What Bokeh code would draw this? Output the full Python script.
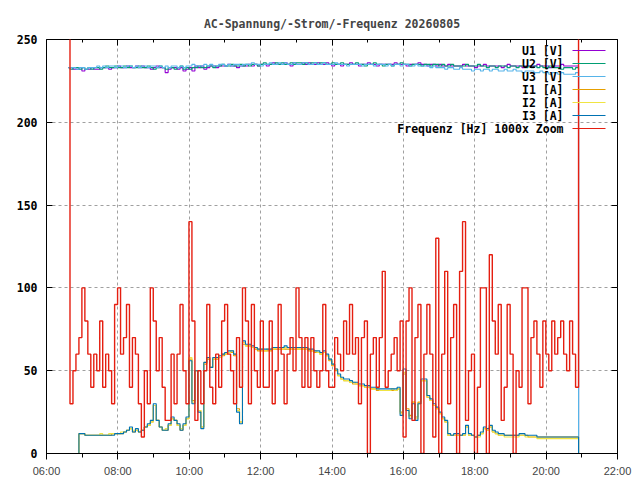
import numpy as np
from bokeh.plotting import figure
from bokeh.models import FixedTicker, LinearAxis, Range1d, Label, BoxAnnotation
from bokeh.embed import file_html
from bokeh.resources import INLINE

# sampling: first sample 06:37, one value every 5 minutes
start_min = 6 * 60 + 37
step_min = 5

x_ticks = [6, 8, 10, 12, 14, 16, 18, 20, 22]
x_minor = [7, 9, 11, 13, 15, 17, 19, 21]
x_labels = ["06:00", "08:00", "10:00", "12:00", "14:00", "16:00", "18:00", "20:00", "22:00"]
y_ticks = [0, 50, 100, 150, 200, 250]

u1 = [233, 233, 232, 232, 233, 231, 232, 232, 233, 232, 232, 233,
      233, 233, 232, 233, 233, 234, 233, 233, 234, 233, 233, 234,
      233, 234, 233, 233, 232, 233, 234, 233, 233, 230, 232, 233,
      233, 232, 233, 231, 232, 233, 231, 234, 233, 234, 232, 233,
      234, 234, 233, 234, 234, 234, 235, 234, 234, 233, 234, 234,
      234, 235, 234, 235, 234, 235, 235, 234, 235, 236, 235, 235,
      235, 236, 235, 234, 236, 235, 235, 236, 235, 236, 235, 235,
      236, 235, 235, 236, 235, 234, 235, 235, 234, 235, 235, 236,
      235, 235, 234, 235, 235, 236, 235, 235, 234, 235, 235, 235,
      235, 235, 236, 235, 235, 235, 234, 235, 235, 235, 236, 235,
      235, 234, 235, 235, 234, 235, 234, 234, 235, 234, 234, 234,
      234, 235, 234, 234, 234, 233, 234, 234, 235, 234, 234, 234,
      234, 234, 233, 234, 235, 234, 234, 234, 234, 233, 234, 234,
      234, 234, 235, 234, 234, 234, 233, 234, 234, 234, 235, 234,
      234, 234, 234, 234, 0]
u2 = [233, 232, 233, 233, 232, 233, 232, 233, 232, 233, 233, 232,
      233, 234, 233, 233, 234, 233, 233, 234, 233, 234, 233, 233,
      234, 233, 233, 234, 233, 232, 233, 234, 233, 232, 233, 233,
      232, 233, 234, 232, 233, 232, 233, 233, 234, 233, 233, 234,
      234, 233, 234, 234, 235, 234, 234, 235, 234, 234, 235, 234,
      235, 234, 235, 235, 234, 235, 236, 235, 235, 235, 236, 235,
      236, 235, 235, 236, 235, 236, 236, 235, 236, 235, 236, 236,
      235, 236, 236, 235, 235, 236, 235, 235, 236, 235, 235, 235,
      235, 236, 235, 235, 234, 235, 235, 236, 235, 235, 234, 235,
      235, 234, 235, 235, 236, 235, 235, 234, 235, 235, 235, 234,
      235, 235, 234, 235, 235, 234, 235, 234, 234, 235, 234, 234,
      234, 234, 235, 234, 234, 234, 235, 234, 234, 233, 234, 234,
      233, 234, 234, 234, 233, 234, 234, 233, 234, 234, 233, 234,
      233, 234, 233, 234, 233, 233, 234, 233, 233, 233, 232, 233,
      233, 233, 232, 233, 0]
u3 = [233, 233, 233, 232, 233, 233, 232, 233, 233, 233, 234, 233,
      234, 233, 234, 234, 233, 234, 234, 233, 234, 234, 233, 234,
      233, 234, 234, 233, 234, 234, 233, 234, 233, 234, 233, 234,
      234, 233, 234, 233, 234, 234, 235, 234, 234, 234, 235, 234,
      235, 234, 234, 235, 235, 234, 235, 234, 235, 235, 234, 235,
      235, 235, 236, 235, 235, 234, 235, 235, 236, 235, 235, 236,
      235, 236, 235, 235, 236, 235, 235, 236, 236, 235, 235, 236,
      235, 235, 236, 235, 235, 235, 236, 235, 235, 235, 234, 235,
      235, 235, 235, 234, 235, 235, 235, 234, 235, 235, 235, 234,
      235, 234, 235, 235, 234, 235, 235, 234, 234, 235, 234, 234,
      234, 234, 233, 234, 233, 233, 233, 232, 233, 233, 232, 232,
      233, 232, 232, 232, 231, 232, 232, 231, 232, 232, 231, 232,
      232, 231, 231, 232, 231, 231, 232, 231, 231, 230, 231, 231,
      231, 230, 230, 231, 230, 230, 229, 230, 230, 229, 230, 229,
      229, 229, 229, 230, 0]

i1 = [0, 0, 0, 0, 12, 12, 11, 11, 11, 11, 11, 11, 11, 11, 11, 12,
      12, 12, 12, 13, 14, 15, 13, 14, 13, 14, 16, 17, 19, 29,
      20, 16, 14, 14, 17, 21, 20, 17, 14, 17,
      21, 57, 32, 50, 26, 16, 54, 57, 52, 57,
      57, 58, 59, 60, 61, 61, 59, 27, 19, 66,
      65, 65, 64, 63, 62, 62, 62, 62, 62, 63,
      63, 63, 63, 63, 63, 63, 63, 63, 63, 63,
      63, 62, 62, 61, 61, 60, 61, 59, 56, 53,
      50, 47, 45, 44, 44, 43, 42, 42, 41, 41,
      40, 40, 39, 39, 38, 38, 38, 38, 38, 38,
      38, 39, 25, 48, 27, 23, 31, 22, 31, 44,
      44, 34, 32, 29, 27, 24, 21, 19, 11, 11,
      11, 11, 11, 11, 16, 11, 11, 10, 11, 12,
      15, 14, 16, 13, 12, 11, 11, 11, 11, 11,
      11, 11, 11, 11, 11, 10, 10, 10, 10, 10,
      10, 10, 10, 10, 10, 10, 10, 10, 10, 10,
      10, 10, 0]
i2 = [0, 0, 0, 0, 12, 12, 11, 11, 11, 11, 11, 12, 11, 11, 12, 12,
      12, 12, 13, 13, 14, 15, 14, 14, 13, 14, 16, 17, 19, 29,
      20, 16, 14, 15, 17, 21, 20, 17, 15, 17,
      21, 58, 31, 50, 26, 16, 55, 58, 52, 57,
      58, 58, 60, 60, 61, 62, 60, 26, 19, 67,
      65, 65, 64, 64, 63, 63, 62, 63, 63, 63,
      64, 64, 63, 64, 64, 63, 64, 63, 63, 63,
      63, 63, 62, 62, 61, 60, 61, 59, 57, 54,
      51, 47, 45, 44, 44, 43, 43, 42, 41, 41,
      40, 40, 39, 39, 39, 38, 38, 38, 38, 39,
      38, 39, 24, 49, 26, 22, 31, 21, 30, 44,
      44, 34, 32, 29, 27, 24, 21, 19, 11, 11,
      11, 11, 11, 11, 16, 11, 11, 10, 10, 12,
      15, 14, 16, 13, 12, 11, 11, 10, 10, 10,
      10, 10, 11, 11, 10, 10, 10, 10, 9, 9,
      9, 9, 9, 9, 9, 9, 9, 9, 9, 9,
      9, 9, 0]
i3 = [0, 0, 0, 0, 12, 12, 11, 11, 11, 11, 11, 11, 11, 11, 11, 11,
      12, 12, 12, 13, 14, 16, 13, 15, 13, 14, 16, 18, 20, 30,
      20, 16, 14, 14, 18, 22, 20, 18, 14, 18,
      22, 56, 30, 50, 25, 15, 55, 58, 52, 58,
      58, 59, 60, 61, 62, 62, 60, 25, 18, 68,
      66, 66, 65, 64, 63, 63, 63, 63, 63, 64,
      64, 64, 64, 65, 64, 64, 64, 64, 64, 64,
      64, 63, 63, 62, 62, 61, 62, 60, 57, 54,
      51, 48, 46, 45, 45, 44, 43, 43, 42, 42,
      41, 41, 40, 40, 39, 39, 39, 39, 39, 39,
      39, 40, 23, 51, 26, 21, 30, 20, 30, 45,
      45, 35, 33, 30, 28, 25, 22, 20, 12, 11,
      12, 12, 11, 12, 17, 12, 11, 10, 11, 13,
      16, 15, 17, 14, 13, 12, 12, 11, 11, 11,
      11, 11, 12, 12, 11, 11, 11, 11, 10, 10,
      10, 10, 10, 10, 10, 10, 10, 10, 10, 10,
      10, 10, 0]

freq_zoom = [260, 30, 50, 60, 70, 100, 80, 60, 40, 60,
             50, 80, 40, 60, 50, 30, 90, 100, 60, 70,
             90, 40, 70, 60, 30, 10, 50, 30, 100, 80,
             50, 70, 40, 20, 20, 60, 30, 60, 90, 50,
             30, 140, 80, 20, 50, 30, 50, 90, 40, 30,
             60, 40, 80, 90, 60, 50, 30, 70, 40, 100,
             80, 30, 90, 50, 40, 80, 40, 40, 80, 30,
             50, 90, 60, 30, 60, 70, 50, 100, 70, 40,
             70, 40, 70, 50, 40, 50, 90, 50, 40, 40,
             70, 60, 50, 80, 60, 90, 60, 70, 30, 70,
             80, 0, 60, 70, 40, 70, 110, 40, 50, 60,
             70, 50, 80, 10, 80, 100, 20, 70, 90, 0,
             60, 90, 60, 10, 130, 0, 60, 110, 30, 70,
             90, 0, 110, 140, 20, 50, 60, 0, 40, 100,
             100, 0, 120, 80, 60, 90, 20, 40, 90, 60,
             0, 50, 40, 100, 100, 30, 70, 80, 60, 40,
             80, 60, 50, 80, 60, 70, 80, 60, 50, 80,
             60, 40, 260]

names = ["U1 [V]", "U2 [V]", "U3 [V]", "I1 [A]", "I2 [A]", "I3 [A]", "Frequenz [Hz] 1000x Zoom"]
colors = ["#9400d3", "#009e73", "#56b4e9", "#e69f00", "#f0e442", "#0072b2", "#e51e10"]
widths = [1.1, 1.1, 1.1, 1.1, 1.1, 1.1, 1.4]
series = [u1, u2, u3, i1, i2, i3, freq_zoom]

hours = (start_min + step_min * np.arange(len(freq_zoom))) / 60.0

FONT = "DejaVu Sans Mono"
FS = "11.5px"

p = figure(width=640, height=480, x_range=Range1d(6, 22), y_range=Range1d(0, 250),
           output_backend="svg", toolbar_location=None,
           min_border_left=46, min_border_right=23, min_border_top=39, min_border_bottom=27)

p.title.text = "AC-Spannung/-Strom/-Frequenz 20260805"
p.title.align = "center"
p.title.text_font = FONT
p.title.text_font_size = FS
p.title.text_font_style = "bold"
p.title.standoff = 17

p.outline_line_color = "black"
p.outline_line_width = 1
p.background_fill_color = "white"
p.border_fill_color = "white"

xt = FixedTicker(ticks=x_ticks, minor_ticks=x_minor)
yt = FixedTicker(ticks=y_ticks, minor_ticks=[])

p.xaxis.ticker = xt
p.xaxis.major_label_overrides = dict(zip(x_ticks, x_labels))
p.yaxis.ticker = yt

# mirrored tick marks on top and right, without labels
top_ax = LinearAxis(ticker=xt, major_label_overrides={t: "" for t in x_ticks})
right_ax = LinearAxis(ticker=yt, major_label_overrides={t: "" for t in y_ticks})
p.add_layout(top_ax, "above")
p.add_layout(right_ax, "right")

for ax in [p.xaxis[0], p.yaxis[0], top_ax, right_ax]:
    ax.axis_line_color = None
    ax.major_tick_line_color = "black"
    ax.minor_tick_line_color = "black"
    ax.major_tick_in = 6
    ax.major_tick_out = 0
    ax.minor_tick_in = 3
    ax.minor_tick_out = 0
    ax.major_label_text_font = FONT
    ax.major_label_text_font_size = FS
    ax.major_label_text_font_style = "bold"
    ax.major_label_text_color = "black"
for ax in [top_ax, right_ax]:
    ax.major_label_standoff = 0
p.xaxis[0].major_label_standoff = -3
p.yaxis[0].major_label_standoff = 9

p.xgrid.ticker = xt
p.ygrid.ticker = yt
for g in [p.xgrid[0], p.ygrid[0]]:
    g.grid_line_color = "#a0a0a0"
    g.grid_line_dash = "3 3"
    g.grid_line_width = 1

for vals, col, lw in zip(series, colors, widths):
    p.step(hours, vals, mode="center", line_color=col, line_width=lw)

# gnuplot style key: text right aligned, sample line to its right
row_y = 403
for name, col in zip(names, colors):
    p.add_layout(Label(x=517, y=row_y, x_units="screen", y_units="screen", text=name,
                       text_align="right", text_baseline="middle", text_font=FONT,
                       text_font_size=FS, text_font_style="bold", text_color="black"))
    p.add_layout(BoxAnnotation(left=526, right=559, bottom=row_y - 0.5, top=row_y + 0.5,
                               left_units="screen", right_units="screen",
                               bottom_units="screen", top_units="screen",
                               fill_color=col, fill_alpha=1, line_color=None))
    row_y -= 13

open("out.html", "w").write(file_html(p, INLINE))
